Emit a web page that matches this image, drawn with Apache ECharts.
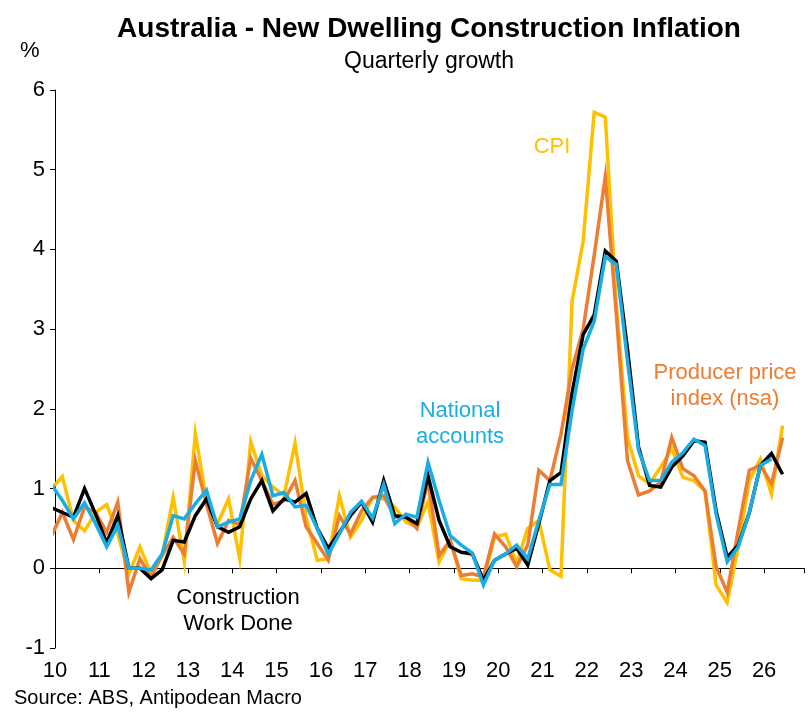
<!DOCTYPE html>
<html>
<head>
<meta charset="utf-8">
<script src="https://cdn.jsdelivr.net/npm/echarts@6/dist/echarts.min.js"></script>
<style>
  html, body { margin: 0; padding: 0; background: #fff; }
  #chart { width: 812px; height: 727px; }
</style>
</head>
<body>
<div id="chart"></div>
<script>
// quarters 2009Q4 .. 2026Q2 (2009Q4 only shows as the clipped start of each line)
let quarters = ['2009Q4'];
for (let y = 2010; y <= 2026; y++) {
    for (let q = 1; q <= 4; q++) {
        if (quarters.length < 67) quarters.push(y + 'Q' + q);
    }
}

let cwd = [0.76,0.70,0.64,1.00,0.68,0.32,0.66,0.00,0.00,-0.13,-0.02,0.35,0.33,0.66,0.87,0.52,0.45,0.52,0.87,1.10,0.72,
    0.87,0.83,0.94,0.50,0.25,0.45,0.66,0.83,0.58,1.10,0.66,0.64,0.56,1.16,0.60,0.27,0.20,0.18,-0.15,0.10,
    0.18,0.25,0.04,0.56,1.10,1.20,2.20,2.93,3.18,3.98,3.85,2.75,1.52,1.04,1.02,1.27,1.41,1.60,1.58,0.72,
    0.14,0.29,0.70,1.29,1.44,1.18];
let national = [1.05,0.85,0.62,0.82,0.56,0.27,0.54,0.00,0.00,-0.02,0.18,0.66,0.62,0.81,0.98,0.52,0.58,0.62,1.10,1.43,0.91,
    0.95,0.77,0.79,0.50,0.18,0.43,0.70,0.84,0.63,1.05,0.56,0.68,0.64,1.33,0.85,0.41,0.29,0.19,-0.21,0.10,
    0.18,0.29,0.12,0.60,1.05,1.05,1.98,2.75,3.10,3.91,3.81,2.60,1.48,1.10,1.10,1.33,1.45,1.62,1.54,0.68,
    0.08,0.27,0.70,1.29,1.37];
let ppi = [0.40,0.70,0.36,0.77,0.70,0.45,0.83,-0.30,0.12,-0.11,0.16,0.39,0.18,1.35,0.81,0.31,0.60,0.55,1.38,1.10,0.80,
    0.85,1.10,0.52,0.31,0.10,0.66,0.43,0.72,0.89,0.91,0.64,0.64,0.50,1.10,0.16,0.35,-0.09,-0.07,-0.11,0.43,
    0.27,0.02,0.29,1.23,1.10,1.68,2.50,3.00,3.93,4.91,3.18,1.35,0.92,0.97,1.08,1.64,1.25,1.16,0.97,0.02,
    -0.30,0.48,1.23,1.29,1.06,1.64];
let cpi = [1.00,1.15,0.60,0.47,0.70,0.80,0.43,-0.07,0.27,-0.07,0.16,0.89,0.08,1.69,0.85,0.56,0.87,0.12,1.59,1.16,1.02,
    0.91,1.57,0.64,0.10,0.12,0.91,0.39,0.60,0.89,0.87,0.77,0.58,0.52,0.83,0.08,0.35,-0.13,-0.15,-0.15,0.39,
    0.43,0.06,0.50,0.60,-0.02,-0.10,3.35,4.10,5.72,5.66,3.30,1.64,1.16,1.06,1.27,1.50,1.14,1.10,0.97,-0.21,
    -0.43,0.27,1.10,1.37,0.93,1.79];

// quarterly points sit at the start of the quarter's last month
function quarterTime(label) {
    let y = parseInt(label.slice(0, 4));
    let q = parseInt(label.slice(5));
    return y + (3 * q - 1) / 12;
}
function pairs(values) {
    return values.map((v, i) => [quarterTime(quarters[i]), v]);
}

let font = 'Liberation Sans, Arial, sans-serif';
let myChart = echarts.init(document.getElementById('chart'));

function line(name, values, color) {
    return {
        name: name,
        type: 'line',
        data: pairs(values),
        showSymbol: false,
        symbol: 'none',
        clip: true,
        lineStyle: { color: color, width: 3.5, join: 'miter' },
        itemStyle: { color: color },
        animation: false
    };
}

function note(text, x, y, color, size, weight) {
    return {
        type: 'text', x: x, y: y,
        style: { text: text, fill: color, font: (weight || '') + ' ' + (size || 22) + 'px ' + font,
                 textAlign: 'center', lineHeight: 26 }
    };
}

let option = {
    backgroundColor: '#fff',
    grid: { left: 55, right: 8, top: 90, bottom: 79 },
    xAxis: [
        {
            type: 'value', min: 2010, max: 2026.9, interval: 1,
            axisLine: { show: false, onZero: false }, axisTick: { show: false },
            splitLine: { show: false },
            axisLabel: { fontFamily: font, fontSize: 22, color: '#000', margin: 12,
                formatter: v => (Number.isInteger(v) ? String(v % 100).padStart(2, '0') : '') }
        },
        {
            type: 'value', min: 2010, max: 2026.9, interval: 1, position: 'bottom',
            axisLine: { show: true, onZero: true, lineStyle: { color: '#000', width: 1 } },
            axisTick: { show: true, inside: false, length: 5, lineStyle: { color: '#000' } },
            axisLabel: { show: false }, splitLine: { show: false }
        }
    ],
    yAxis: {
        type: 'value', min: -1, max: 6, interval: 1,
        axisLine: { show: true, lineStyle: { color: '#000' } },
        axisTick: { show: true, length: 5, lineStyle: { color: '#000' } },
        splitLine: { show: false },
        axisLabel: { fontFamily: font, fontSize: 22, color: '#000', margin: 10 }
    },
    graphic: [
        note('Australia - New Dwelling Construction Inflation', 429, 16, '#000', 28, 'bold'),
        note('Quarterly growth', 429, 49, '#000', 23),
        { type: 'text', x: 20, y: 40, style: { text: '%', fill: '#000', font: '22px ' + font } },
        { type: 'text', x: 14, y: 688, style: { text: 'Source: ABS, Antipodean Macro', fill: '#000', font: '20px ' + font } },
        note('CPI', 552, 134, '#FFC000'),
        note('Producer price\nindex (nsa)', 725, 360, '#ED7D31'),
        note('National\naccounts', 460, 398, '#1AADE4'),
        note('Construction\nWork Done', 238, 585, '#000')
    ],
    series: [
        line('CPI', cpi, '#FFC000'),
        line('Producer price index (nsa)', ppi, '#ED7D31'),
        line('Construction Work Done', cwd, '#000000'),
        line('National accounts', national, '#1AADE4')
    ]
};

myChart.setOption(option);
</script>
</body>
</html>
